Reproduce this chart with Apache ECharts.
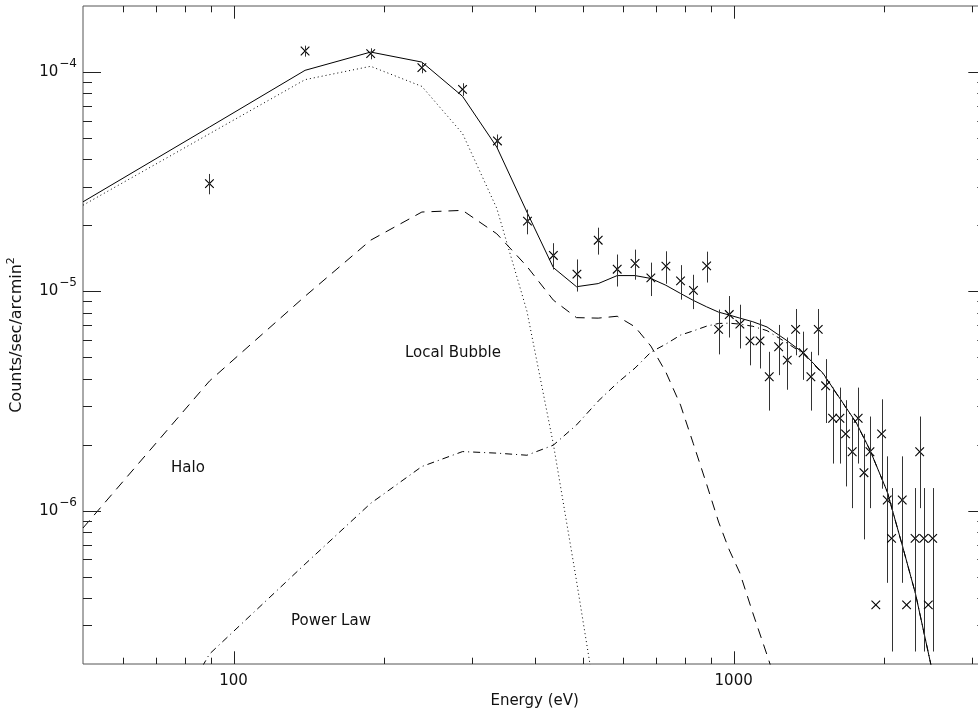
<!DOCTYPE html>
<html><head><meta charset="utf-8">
<script src="https://cdn.jsdelivr.net/npm/echarts@6/dist/echarts.min.js"></script>
<style>html,body{margin:0;padding:0;background:#fff;overflow:hidden;width:978px;height:715px}#c{width:990px;height:715px}</style>
</head><body><div id="c"></div>
<script>
// ---------- data ----------
const dataE = [89.5,139,188,238,287,337,387,436,486,536,585,635,683,732,783,831,883,933,980,1029,1078,1129,1178,1230,1280,1330,1377,1427,1476,1527,1577,1631,1674,1726,1774,1822,1873,1924,1976,2028,2069,2173,2217,2305,2355,2400,2450,2500];
const dataFlux = [3.1e-5,1.247e-4,1.213e-4,1.047e-4,8.34e-5,4.85e-5,2.09e-5,1.458e-5,1.198e-5,1.711e-5,1.262e-5,1.34e-5,1.152e-5,1.303e-5,1.117e-5,1.01e-5,1.307e-5,6.71e-6,7.84e-6,7.09e-6,5.95e-6,5.95e-6,4.08e-6,5.59e-6,4.86e-6,6.71e-6,5.25e-6,4.08e-6,6.71e-6,3.71e-6,2.64e-6,2.64e-6,2.24e-6,1.857e-6,2.64e-6,1.49e-6,1.857e-6,3.72e-7,2.24e-6,1.119e-6,7.48e-7,1.119e-6,3.72e-7,7.48e-7,1.857e-6,7.48e-7,3.72e-7,7.48e-7];
const dataErr = [0.33e-5,0.072e-4,0.07e-4,0.06e-4,0.55e-5,0.34e-5,0.27e-5,0.2e-5,0.2e-5,0.24e-5,0.21e-5,0.21e-5,0.2e-5,0.22e-5,0.2e-5,0.18e-5,0.21e-5,1.55e-6,1.68e-6,1.6e-6,1.35e-6,1.5e-6,1.22e-6,1.44e-6,1.3e-6,1.6e-6,1.3e-6,1.22e-6,1.6e-6,1.2e-6,1.0e-6,1.0e-6,0.95e-6,0.83e-6,1.0e-6,0.75e-6,0.83e-6,0,0.98e-6,0.65e-6,0.52e-6,0.65e-6,0,0.52e-6,0.83e-6,0.52e-6,0,0.52e-6];

const modelE = [50,89.5,139,188,238,287,336,386,436,485,536,585,635,683,732,783,830,883,933,980,1029,1092,1166,1273,1377,1509,1622,1760,1873,2028,2178,2310,2478,2700];
const totalModel = [2.56e-5,5.61e-5,1.018e-4,1.233e-4,1.11e-4,7.75e-5,4.55e-5,2.30e-5,1.283e-5,1.05e-5,1.085e-5,1.18e-5,1.18e-5,1.145e-5,1.066e-5,9.78e-6,9.1e-6,8.5e-6,8.04e-6,7.8e-6,7.55e-6,7.27e-6,6.88e-6,6.0e-6,5.25e-6,4.23e-6,3.31e-6,2.51e-6,1.89e-6,1.22e-6,6.83e-7,4.18e-7,2.0e-7,8e-8];
const localBubble = [2.47e-5,5.23e-5,9.23e-5,1.062e-4,8.6e-5,5.24e-5,2.39e-5,8.13e-6,2.01e-6,4.79e-7,1.17e-7,null,null,null,null,null,null,null,null,null,null,null,null,null,null,null,null,null,null,null,null,null,null,null];
const halo = [8.34e-7,3.9e-6,9.5e-6,1.711e-5,2.30e-5,2.34e-5,1.83e-5,1.30e-5,9.12e-6,7.59e-6,7.55e-6,7.7e-6,6.89e-6,5.63e-6,4.28e-6,3.03e-6,2.03e-6,1.32e-6,8.88e-7,6.62e-7,5.2e-7,3.42e-7,2.2e-7,1.2e-7,null,null,null,null,null,null,null,null,null,null];
const powerLaw = [2.19e-8,2.22e-7,5.71e-7,1.08e-6,1.59e-6,1.86e-6,1.83e-6,1.79e-6,1.99e-6,2.46e-6,3.16e-6,3.82e-6,4.47e-6,5.28e-6,5.75e-6,6.32e-6,6.6e-6,6.94e-6,7.14e-6,7.16e-6,7.09e-6,6.93e-6,6.62e-6,5.85e-6,5.2e-6,4.2e-6,3.3e-6,2.5e-6,1.89e-6,1.22e-6,6.83e-7,4.18e-7,2.0e-7,8e-8];

const xRange = [50, 3200];
const yRange = [2e-7, 2e-4];
const xMajorTicks = [100, 1000];
const xMinorTicks = [60,70,80,90,200,300,400,500,600,700,800,900,2000,3000];
const yMajorTicks = [1e-6, 1e-5, 1e-4];
const yMinorTicks = [3e-7,4e-7,5e-7,6e-7,7e-7,8e-7,9e-7,2e-6,3e-6,4e-6,5e-6,6e-6,7e-6,8e-6,9e-6,2e-5,3e-5,4e-5,5e-5,6e-5,7e-5,8e-5,9e-5];
const xLabels = [100, 1000];
const yLabelExps = [-6, -5, -4];

// ---------- chart ----------
const FONT = 'DejaVu Sans';
const INK = '#111';
const chart = echarts.init(document.getElementById('c'), null, {renderer: 'canvas'});

function pairs(xs, ys) { const out = []; xs.forEach((x, i) => { if (ys[i] != null) out.push([x, ys[i]]); }); return out; }

const xTickData = xMajorTicks.map(v => [v, yRange[0], 12.7]).concat(xMinorTicks.map(v => [v, yRange[0], 6.3]));
const yTickData = yMajorTicks.map(v => [xRange[0], v, 18]).concat(yMinorTicks.map(v => [xRange[0], v, 9]));
const pointData = dataE.map((e, i) => [e, dataFlux[i], dataErr[i]]);

function lineSeries(name, ys, type) {
  return {
    name, type: 'line', data: pairs(modelE, ys), showSymbol: false, symbol: 'none',
    lineStyle: {color: '#000', width: 1, type: type}, clip: true, silent: true, z: 3
  };
}

const option = {
  animation: false,
  backgroundColor: '#fff',
  grid: {left: 83, top: 6, right: 3.7, bottom: 51, show: true, borderColor: '#555', borderWidth: 1,
         containLabel: false, outerBoundsMode: 'none'},
  xAxis: {
    type: 'log', logBase: 10, min: xRange[0], max: xRange[1],
    axisLine: {show: false}, axisTick: {show: false}, splitLine: {show: false}, minorTick: {show: false},
    axisLabel: {
      showMinLabel: false, showMaxLabel: false, margin: 10,
      color: INK, fontFamily: FONT, fontSize: 15,
      formatter: v => { const r = Math.round(v); return xLabels.some(l => Math.abs(l - v) / l < 1e-6) ? String(r) : ''; }
    },
    name: 'Energy (eV)', nameLocation: 'middle', nameGap: 27,
    nameTextStyle: {color: INK, fontFamily: FONT, fontSize: 15}
  },
  yAxis: {
    type: 'log', logBase: 10, min: yRange[0], max: yRange[1],
    axisLine: {show: false}, axisTick: {show: false}, splitLine: {show: false}, minorTick: {show: false},
    axisLabel: {
      showMinLabel: false, showMaxLabel: false, margin: 6,
      color: INK, fontFamily: FONT, fontSize: 15,
      formatter: v => {
        const lg = Math.log10(v), e = Math.round(lg);
        if (Math.abs(lg - e) > 1e-4 || yLabelExps.indexOf(e) < 0) return '';
        return '{b|10}{s|' + (e < 0 ? '\u2212' : '') + Math.abs(e) + '}';
      },
      rich: {
        b: {fontFamily: FONT, fontSize: 15, color: INK},
        s: {fontFamily: FONT, fontSize: 12, color: INK, padding: [0, 0, 16, 1]}
      }
    },
    name: 'Counts/sec/arcmin{s|2}', nameLocation: 'middle', nameRotate: 90, nameGap: 55,
    nameTextStyle: {color: INK, fontFamily: FONT, fontSize: 16,
      rich: {s: {fontFamily: FONT, fontSize: 11, color: INK, padding: [0, 0, 11, 0]}}}
  },
  series: [
    lineSeries('Total', totalModel, 'solid'),
    lineSeries('Local Bubble', localBubble, [1, 3]),
    lineSeries('Halo', halo, [10, 7]),
    lineSeries('Power Law', powerLaw, [7, 4, 1, 4]),
    {
      name: 'xticks', type: 'custom', data: xTickData, silent: true, z: 5, clip: false,
      renderItem: (params, api) => {
        const x = api.value(0), len = api.value(2);
        const b = api.coord([x, yRange[0]]), t = api.coord([x, yRange[1]]);
        const px = Math.round(b[0]) + 0.5;
        const st = {stroke: '#222', lineWidth: 1};
        return {type: 'group', children: [
          {type: 'line', shape: {x1: px, y1: b[1], x2: px, y2: b[1] - len}, style: st},
          {type: 'line', shape: {x1: px, y1: t[1], x2: px, y2: t[1] + len}, style: st}
        ]};
      }
    },
    {
      name: 'yticks', type: 'custom', data: yTickData, silent: true, z: 5, clip: false,
      renderItem: (params, api) => {
        const y = api.value(1), len = api.value(2);
        const l = api.coord([xRange[0], y]), r = api.coord([xRange[1], y]);
        const py = Math.round(l[1]) + 0.5;
        const st = {stroke: '#222', lineWidth: 1};
        return {type: 'group', children: [
          {type: 'line', shape: {x1: l[0], y1: py, x2: l[0] + len, y2: py}, style: st},
          {type: 'line', shape: {x1: r[0], y1: py, x2: r[0] - len, y2: py}, style: st}
        ]};
      }
    },
    {
      name: 'data', type: 'custom', data: pointData, silent: true, z: 6, clip: true,
      renderItem: (params, api) => {
        const e = api.value(0), v = api.value(1), s = api.value(2);
        const c = api.coord([e, v]);
        const h = 4.3;
        const ch = [
          {type: 'line', shape: {x1: c[0] - h, y1: c[1] - h, x2: c[0] + h, y2: c[1] + h}, style: {stroke: '#000', lineWidth: 1.1}},
          {type: 'line', shape: {x1: c[0] - h, y1: c[1] + h, x2: c[0] + h, y2: c[1] - h}, style: {stroke: '#000', lineWidth: 1.1}}
        ];
        if (s > 0) {
          const t = api.coord([e, v + s]);
          const b = api.coord([e, Math.max(v - s, yRange[0])]);
          const px = Math.round(c[0]) + 0.5;
          ch.push({type: 'line', shape: {x1: px, y1: t[1], x2: px, y2: b[1]}, style: {stroke: '#333', lineWidth: 1}});
        }
        return {type: 'group', children: ch};
      }
    }
  ],
  graphic: [
    {type: 'text', x: 405, y: 353, style: {text: 'Local Bubble', font: '15px "DejaVu Sans"', fill: INK, verticalAlign: 'middle'}},
    {type: 'text', x: 171, y: 468, style: {text: 'Halo', font: '15px "DejaVu Sans"', fill: INK, verticalAlign: 'middle'}},
    {type: 'text', x: 291, y: 621, style: {text: 'Power Law', font: '15px "DejaVu Sans"', fill: INK, verticalAlign: 'middle'}}
  ]
};
chart.setOption(option);
</script>
</body></html>
